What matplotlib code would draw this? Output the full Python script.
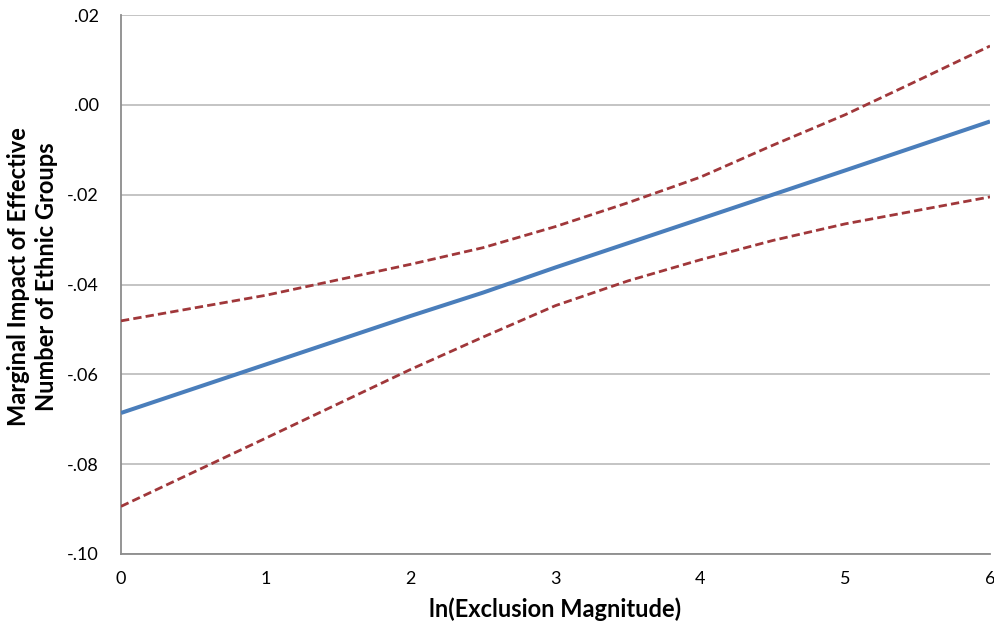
import matplotlib
matplotlib.use("Agg")
import matplotlib.pyplot as plt
from matplotlib.ticker import FuncFormatter

plt.rcParams['font.family'] = ['Lato', 'DejaVu Sans']

# values
x_center = [0, 1, 2, 2.5, 3, 4, 5, 6]
y_center = [-0.0686, -0.0578, -0.0470, -0.0418, -0.0362, -0.0254, -0.0146, -0.0037]

x_band = [0, 1, 2, 2.5, 3, 3.5, 4, 4.5, 5, 5.5, 6]
y_upper = [-0.0481, -0.0424, -0.0355, -0.0318, -0.0271, -0.0218, -0.0161, -0.0090,
           -0.0022, 0.0054, 0.0131]
y_lower = [-0.0894, -0.0742, -0.0589, -0.0517, -0.0447, -0.0392, -0.0345, -0.0302,
           -0.0265, -0.0235, -0.0205]

y_ticks = [-0.10, -0.08, -0.06, -0.04, -0.02, 0.00, 0.02]
x_ticks = [0, 1, 2, 3, 4, 5, 6]

fig = plt.figure(figsize=(9.95, 6.25), dpi=100)
ax = fig.add_axes([0.1216, 0.1136, 0.8734, 0.8624])

ax.plot(x_center, y_center, color='#4A7EBB', lw=2.9, solid_capstyle='butt', zorder=3)
for yy in (y_upper, y_lower):
    ax.plot(x_band, yy, color='#A0373A', lw=2.0, dashes=(3.0, 1.5), zorder=3)

ax.set_xlim(0, 6)
ax.set_ylim(-0.10, 0.02)
ax.set_xticks(x_ticks)
ax.set_yticks(y_ticks)


def fmt(v, pos):
    s = f"{v:.2f}".replace("0.", ".", 1)
    if s == "-.00":
        s = ".00"
    return s


ax.yaxis.set_major_formatter(FuncFormatter(fmt))
ax.grid(axis='y', color='#BFBFBF', lw=1.3)
ax.set_axisbelow(True)
for side in ('top', 'right'):
    ax.spines[side].set_visible(False)
for side in ('left', 'bottom'):
    ax.spines[side].set_color('#8C8C8C')
    ax.spines[side].set_linewidth(1.3)
ax.tick_params(length=0, labelsize=13, colors='black')
ax.tick_params(axis='y', pad=16)
ax.tick_params(axis='x', pad=12)

ax.set_xlabel('ln(Exclusion Magnitude)', fontsize=17, fontweight='bold', labelpad=8)
ax.set_ylabel('Marginal Impact of Effective\nNumber of Ethnic Groups', fontsize=17,
              fontweight='bold', linespacing=1.3)
ax.yaxis.set_label_coords(-0.072, 0.514)

fig.savefig('out.png', dpi=100)
